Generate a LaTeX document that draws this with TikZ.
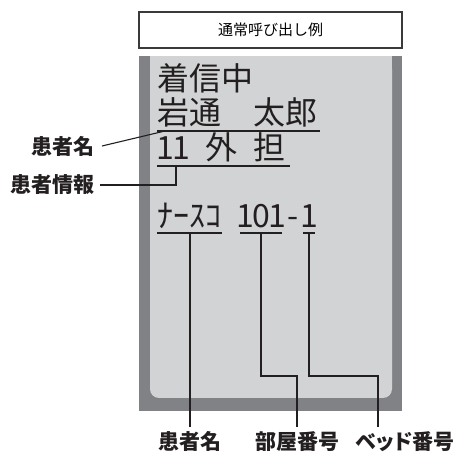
\documentclass[tikz,border=0pt]{standalone}
\usepackage{fontspec}
\usepackage{tikz}
\usetikzlibrary{positioning}
\newfontfamily\jpfont{Noto Sans CJK JP}
\newfontfamily\jppfont[RawFeature=+palt]{Noto Sans CJK JP}
\definecolor{ink}{HTML}{231F20}
\definecolor{bezel}{HTML}{808285}
\definecolor{lcd}{HTML}{D1D3D4}
\definecolor{frame}{HTML}{3A3A3A}
\newcommand\hc[1]{\makebox[16pt]{#1}}

\begin{document}
\begin{tikzpicture}[x=1pt, y=-1pt,
  lcdtext/.style={anchor=base west, inner sep=0pt, text=ink,
    font=\jpfont\fontsize{32}{32}\selectfont},
  lbl/.style={inner sep=0pt, text=ink,
    font=\jpfont\bfseries\fontsize{21}{21}\selectfont},
  uline/.style={draw=ink, line width=1.1pt},
  lead/.style={draw=ink, line width=1.1pt},
]
\useasboundingbox (0,0) rectangle (456,454);
\node[draw=frame, line width=1.2pt, fill=white, minimum width=263pt,
  minimum height=36pt, inner sep=0pt,
  font=\jpfont\fontsize{15}{15}\selectfont] (title) at (270.5,30) {通常呼び出し例};
\fill[bezel] (139,56) rectangle (402,411.5);
\fill[lcd] (150,56) rectangle (392,80);
\fill[lcd, rounded corners=9pt] (150,60) rectangle (392,398);

\node[lcdtext] (call) at (157,91) {着信中};
\node[lcdtext] (name) at (157,125) {岩通　太郎};
\node[lcdtext] (info) at (157,160) {\hc{1}\hc{1}\hc{}外\hc{}担};
\node[lcdtext] (nurse) at (157,228) {ﾅｰｽｺ\hc{}\hc{1}\hc{0}\hc{1}\hc{-}\hc{1}};

\coordinate (nameU1) at (157,131);
\coordinate (nameU2) at (320,131);
\coordinate (infoU1) at (157,166);
\coordinate (infoU2) at (290,166);
\coordinate (nurseU1) at (157,233);
\coordinate (nurseU2) at (222,233);
\coordinate (roomU1) at (240,233);
\coordinate (roomU2) at (282,233);
\coordinate (bedU1) at (303,233);
\coordinate (bedU2) at (315,233);
\draw[uline] (nameU1) -- (nameU2);
\draw[uline] (infoU1) -- (infoU2);
\draw[uline] (nurseU1) -- (nurseU2);
\draw[uline] (roomU1) -- (roomU2);
\draw[uline] (bedU1) -- (bedU2);

\node[lbl, anchor=east] (nameL) at (95,146) {患者名};
\node[lbl, anchor=east] (infoL) at (95,185) {患者情報};
\node[lbl, anchor=north] (nameB) at (190,431) {患者名};
\node[lbl, anchor=north] (roomB) at (297,431) {部屋番号};
\node[lbl, anchor=north east, font=\jppfont\bfseries\fontsize{21}{21}\selectfont]
  (bedB) at (455,431) {ベッド番号};

\coordinate (nameP) at (165,131);
\coordinate (infoP) at (176,166);
\coordinate (nurseP) at (190,233);
\coordinate (roomP) at (261,233);
\coordinate (bedP) at (309,233);
\draw[lead] ([xshift=7pt]nameL.east) -- (nameP);
\draw[lead] ([xshift=5pt]infoL.east) -| (infoP);
\draw[lead] (nurseP) -- ([yshift=4pt]nurseP |- nameB.north);
\draw[lead] (roomP) |- (297,376) -- ([yshift=4pt]roomB.north);
\draw[lead] (bedP) |- (378,376) -- ([yshift=4pt]378,431);
\end{tikzpicture}
\end{document}
